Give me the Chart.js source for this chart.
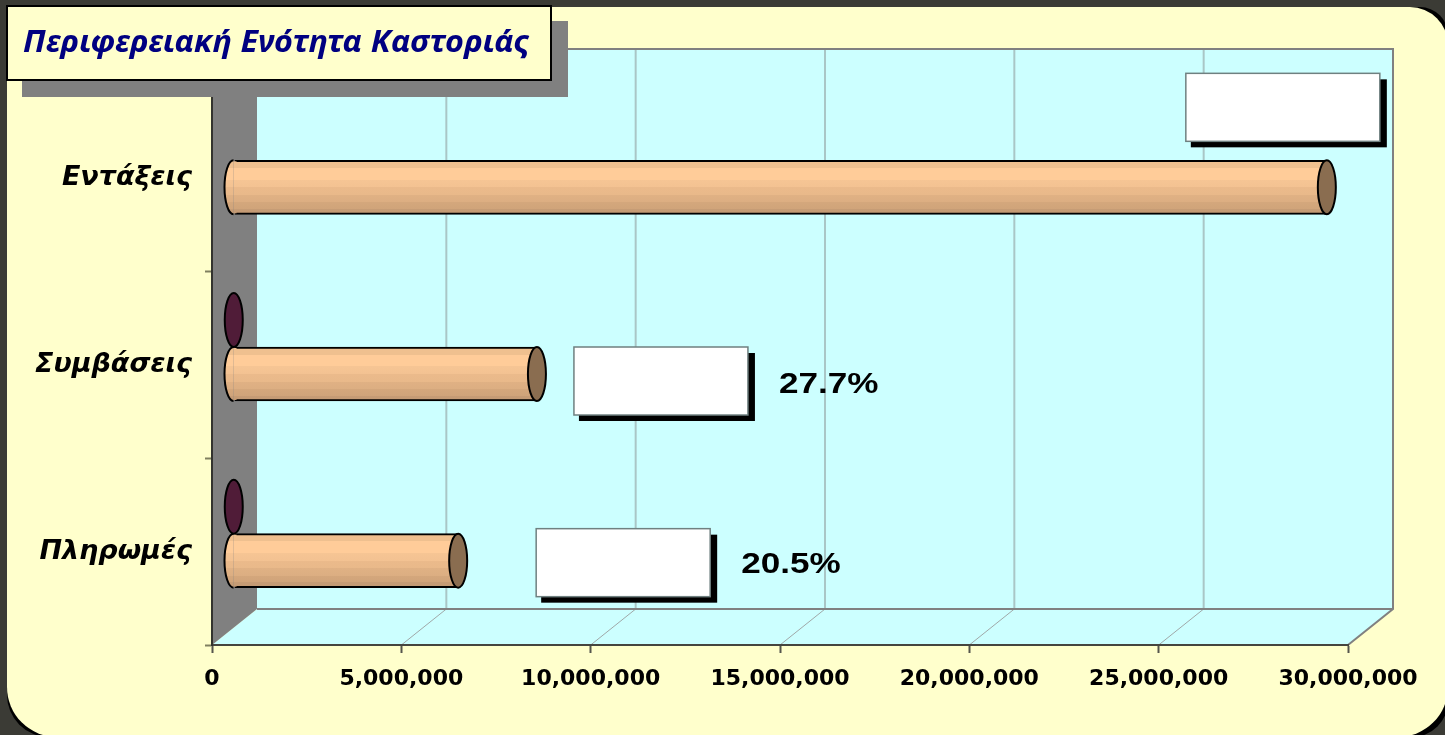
<!DOCTYPE html>
<html>
<head>
<meta charset="utf-8">
<script src="https://cdn.jsdelivr.net/npm/chart.js@4/dist/chart.umd.min.js"></script>
<style>
html,body{margin:0;padding:0;background:#3b3b35;overflow:hidden}
canvas{display:block}
</style>
</head>
<body>
<canvas id="canvasKastoria" width="1445" height="735"></canvas>
<script>
const chartTitle = 'Περιφερειακή Ενότητα Καστοριάς';
const categories = ['Εντάξεις', 'Συμβάσεις', 'Πληρωμές'];
const mainValues = [28860000, 8000000, 5920000];
const smallValues = [null, 20000, 20000];
const shareLabels = ['', '27.7%', '20.5%'];
const axisTicks = [0, 5000000, 10000000, 15000000, 20000000, 25000000, 30000000];

// depth of the fake 3d box, bars sit in the middle of it
const depthX = 45, depthY = 36;
const barShiftX = 22, barShiftY = 18;
const capRx = 9;

// white box position relative to the end of each bar (dx, dy from bar top, width, text baseline)
const boxPlace = [[-141, -87, 194, 0], [37, 0, 174, 46], [78, -5, 174, 44]];

function barGradient(ctx, top, height){
    let g = ctx.createLinearGradient(0, top, 0, top + height);
    let stops = [[0, '#efc08f'], [0.14, '#efc08f'], [0.14, '#ffcc99'], [0.36, '#ffcc99'], [0.36, '#f6c594'],
        [0.5, '#f3c292'], [0.5, '#ebba8b'], [0.64, '#e9b98a'], [0.64, '#e0b184'], [0.78, '#dcae82'],
        [0.78, '#d4a77c'], [0.9, '#d0a47a'], [0.9, '#c69c75'], [1, '#c39a74']];
    for (let i = 0; i < stops.length; i++) g.addColorStop(stops[i][0], stops[i][1]);
    return g;
}

const box3d = {
    id: 'box3d',
    beforeDraw(chart){
        let c = chart.ctx, a = chart.chartArea, xs = chart.scales.x;
        c.save();
        // page frame
        c.fillStyle = '#3b3b35';
        c.fillRect(0, 0, 1445, 735);
        c.fillStyle = '#000';
        c.beginPath();
        c.roundRect(7, 7, 1441, 730, [0, 28, 36, 42]);
        c.fill();
        c.fillStyle = '#ffffcc';
        c.beginPath();
        c.roundRect(7, 7, 1441, 730, [0, 38, 50, 50]);
        c.fill();

        // back wall and floor
        c.fillStyle = '#ccffff';
        c.fillRect(a.left + depthX, a.top - depthY, a.width, a.height);
        c.beginPath();
        c.moveTo(a.left, a.bottom);
        c.lineTo(a.right, a.bottom);
        c.lineTo(a.right + depthX, a.bottom - depthY);
        c.lineTo(a.left + depthX, a.bottom - depthY);
        c.closePath();
        c.fill();

        // side wall
        c.fillStyle = '#808080';
        c.beginPath();
        c.moveTo(a.left, a.top);
        c.lineTo(a.left + depthX, a.top - depthY);
        c.lineTo(a.left + depthX, a.bottom - depthY);
        c.lineTo(a.left, a.bottom);
        c.closePath();
        c.fill();

        // grid
        for (let i = 1; i < xs.ticks.length - 1; i++){
            let x = xs.getPixelForValue(xs.ticks[i].value);
            c.strokeStyle = '#a9c6c6';
            c.lineWidth = 2;
            c.beginPath();
            c.moveTo(x + depthX, a.top - depthY);
            c.lineTo(x + depthX, a.bottom - depthY);
            c.stroke();
            c.strokeStyle = '#a0a8a8';
            c.lineWidth = 1;
            c.beginPath();
            c.moveTo(x, a.bottom);
            c.lineTo(x + depthX, a.bottom - depthY);
            c.stroke();
        }

        // wall outline
        c.strokeStyle = '#808080';
        c.lineWidth = 2;
        c.beginPath();
        c.moveTo(a.left + depthX, a.top - depthY);
        c.lineTo(a.right + depthX, a.top - depthY);
        c.lineTo(a.right + depthX, a.bottom - depthY);
        c.lineTo(a.right, a.bottom);
        c.moveTo(a.right + depthX, a.bottom - depthY);
        c.lineTo(a.left + depthX, a.bottom - depthY);
        c.stroke();
        c.restore();
    },
    beforeDatasetsDraw(chart){
        chart.ctx.save();
        chart.ctx.translate(barShiftX, -barShiftY);
    },
    afterDatasetsDraw(chart){
        let c = chart.ctx;
        c.lineWidth = 2;
        c.strokeStyle = '#000';

        // cylinder ends
        chart.getDatasetMeta(1).data.forEach(function(el){
            let top = el.y - el.height / 2, r = el.height / 2;
            c.fillStyle = barGradient(c, top, el.height);
            c.fillRect(el.base - 1, top + 1, 3, el.height - 2);
            c.beginPath();
            c.ellipse(el.base - 1, el.y, capRx, r, 0, Math.PI / 2, Math.PI * 1.5);
            c.fill();
            c.stroke();
            c.fillStyle = '#8a6d50';
            c.beginPath();
            c.ellipse(el.x, el.y, capRx, r, 0, 0, Math.PI * 2);
            c.fill();
            c.stroke();
        });
        chart.getDatasetMeta(0).data.forEach(function(el, i){
            if (smallValues[i] === null) return;
            c.fillStyle = '#501c38';
            c.beginPath();
            c.ellipse(el.x - 1, el.y, capRx, el.height / 2, 0, 0, Math.PI * 2);
            c.fill();
            c.stroke();
        });
        c.restore();
    },
    afterDraw(chart){
        let c = chart.ctx;
        c.save();

        // white boxes and percent labels
        chart.getDatasetMeta(1).data.forEach(function(el, i){
            let p = boxPlace[i];
            let x = el.x + barShiftX + p[0];
            let y = el.y - barShiftY - el.height / 2 + p[1];
            c.fillStyle = '#000';
            c.fillRect(x + 5, y + 6, p[2] + 2, 68);
            c.fillStyle = '#fff';
            c.fillRect(x, y, p[2], 68);
            c.strokeStyle = '#6f8080';
            c.lineWidth = 1.5;
            c.strokeRect(x, y, p[2], 68);
            if (shareLabels[i]){
                c.save();
                c.translate(x + p[2] + 31, y + p[3]);
                c.scale(1.21, 1);
                c.fillStyle = '#000';
                c.font = 'bold 29px "Liberation Sans"';
                c.textBaseline = 'alphabetic';
                c.fillText(shareLabels[i], 0, 0);
                c.restore();
            }
        });

        // title panel
        c.fillStyle = '#808080';
        c.fillRect(22, 21, 546, 76);
        c.fillStyle = '#ffffcc';
        c.fillRect(7, 6, 544, 74);
        c.strokeStyle = '#000';
        c.lineWidth = 2;
        c.strokeRect(7, 6, 544, 74);
        c.fillStyle = '#000080';
        c.font = 'italic bold 31px "Noto Sans"';
        c.textBaseline = 'alphabetic';
        c.translate(23, 52);
        c.scale(507 / c.measureText(chartTitle).width, 1);
        c.fillText(chartTitle, 0, 0);
        c.restore();
    }
};

function buildChart(){
    let myChart = {
        type: 'bar',
        data: {
            labels: categories,
            datasets: [{
                label: 'small',
                data: smallValues,
                backgroundColor: '#501c38',
                borderWidth: 0,
                barThickness: 54,
                clip: false
            }, {
                label: 'main',
                data: mainValues,
                backgroundColor: function(context){
                    let chart = context.chart;
                    let ys = chart.scales.y;
                    if (!ys) return '#ffcc99';
                    let mid = ys.getPixelForValue(context.dataIndex) + 27;
                    if (!Number.isFinite(mid)) return '#ffcc99';
                    return barGradient(chart.ctx, mid - 27, 54);
                },
                borderColor: '#000',
                borderWidth: {top: 2, bottom: 2, left: 0, right: 0},
                barThickness: 54,
                clip: false
            }]
        },
        options: {
            indexAxis: 'y',
            responsive: false,
            animation: false,
            layout: {padding: {left: 0, right: 97, top: 85, bottom: 0}},
            plugins: {legend: {display: false}, tooltip: {enabled: false}, title: {display: false}},
            scales: {
                x: {
                    min: 0,
                    max: 30000000,
                    afterBuildTicks: function(scale){
                        scale.ticks = axisTicks.map(function(v){ return {value: v}; });
                    },
                    afterFit: function(scale){ scale.height = 90; },
                    grid: {drawOnChartArea: false, tickLength: 8, tickColor: '#55554d', tickWidth: 2},
                    border: {color: '#45453f', width: 2},
                    ticks: {
                        autoSkip: false,
                        maxRotation: 0,
                        padding: 13,
                        color: '#000',
                        font: {family: '"DejaVu Sans"', weight: 'bold', size: 22},
                        callback: function(v){ return v.toLocaleString('en-US'); }
                    }
                },
                y: {
                    afterFit: function(scale){ scale.width = 212; },
                    grid: {drawOnChartArea: false, tickLength: 7, tickColor: '#808060', tickWidth: 2},
                    border: {color: '#33332e', width: 2},
                    ticks: {
                        padding: 13,
                        color: '#000',
                        font: {family: '"DejaVu Sans"', style: 'italic', weight: 'bold', size: 27}
                    }
                }
            }
        },
        plugins: [box3d]
    };

    let ctx = document.getElementById('canvasKastoria').getContext('2d');
    new Chart(ctx, myChart);
}

buildChart();
</script>
</body>
</html>
